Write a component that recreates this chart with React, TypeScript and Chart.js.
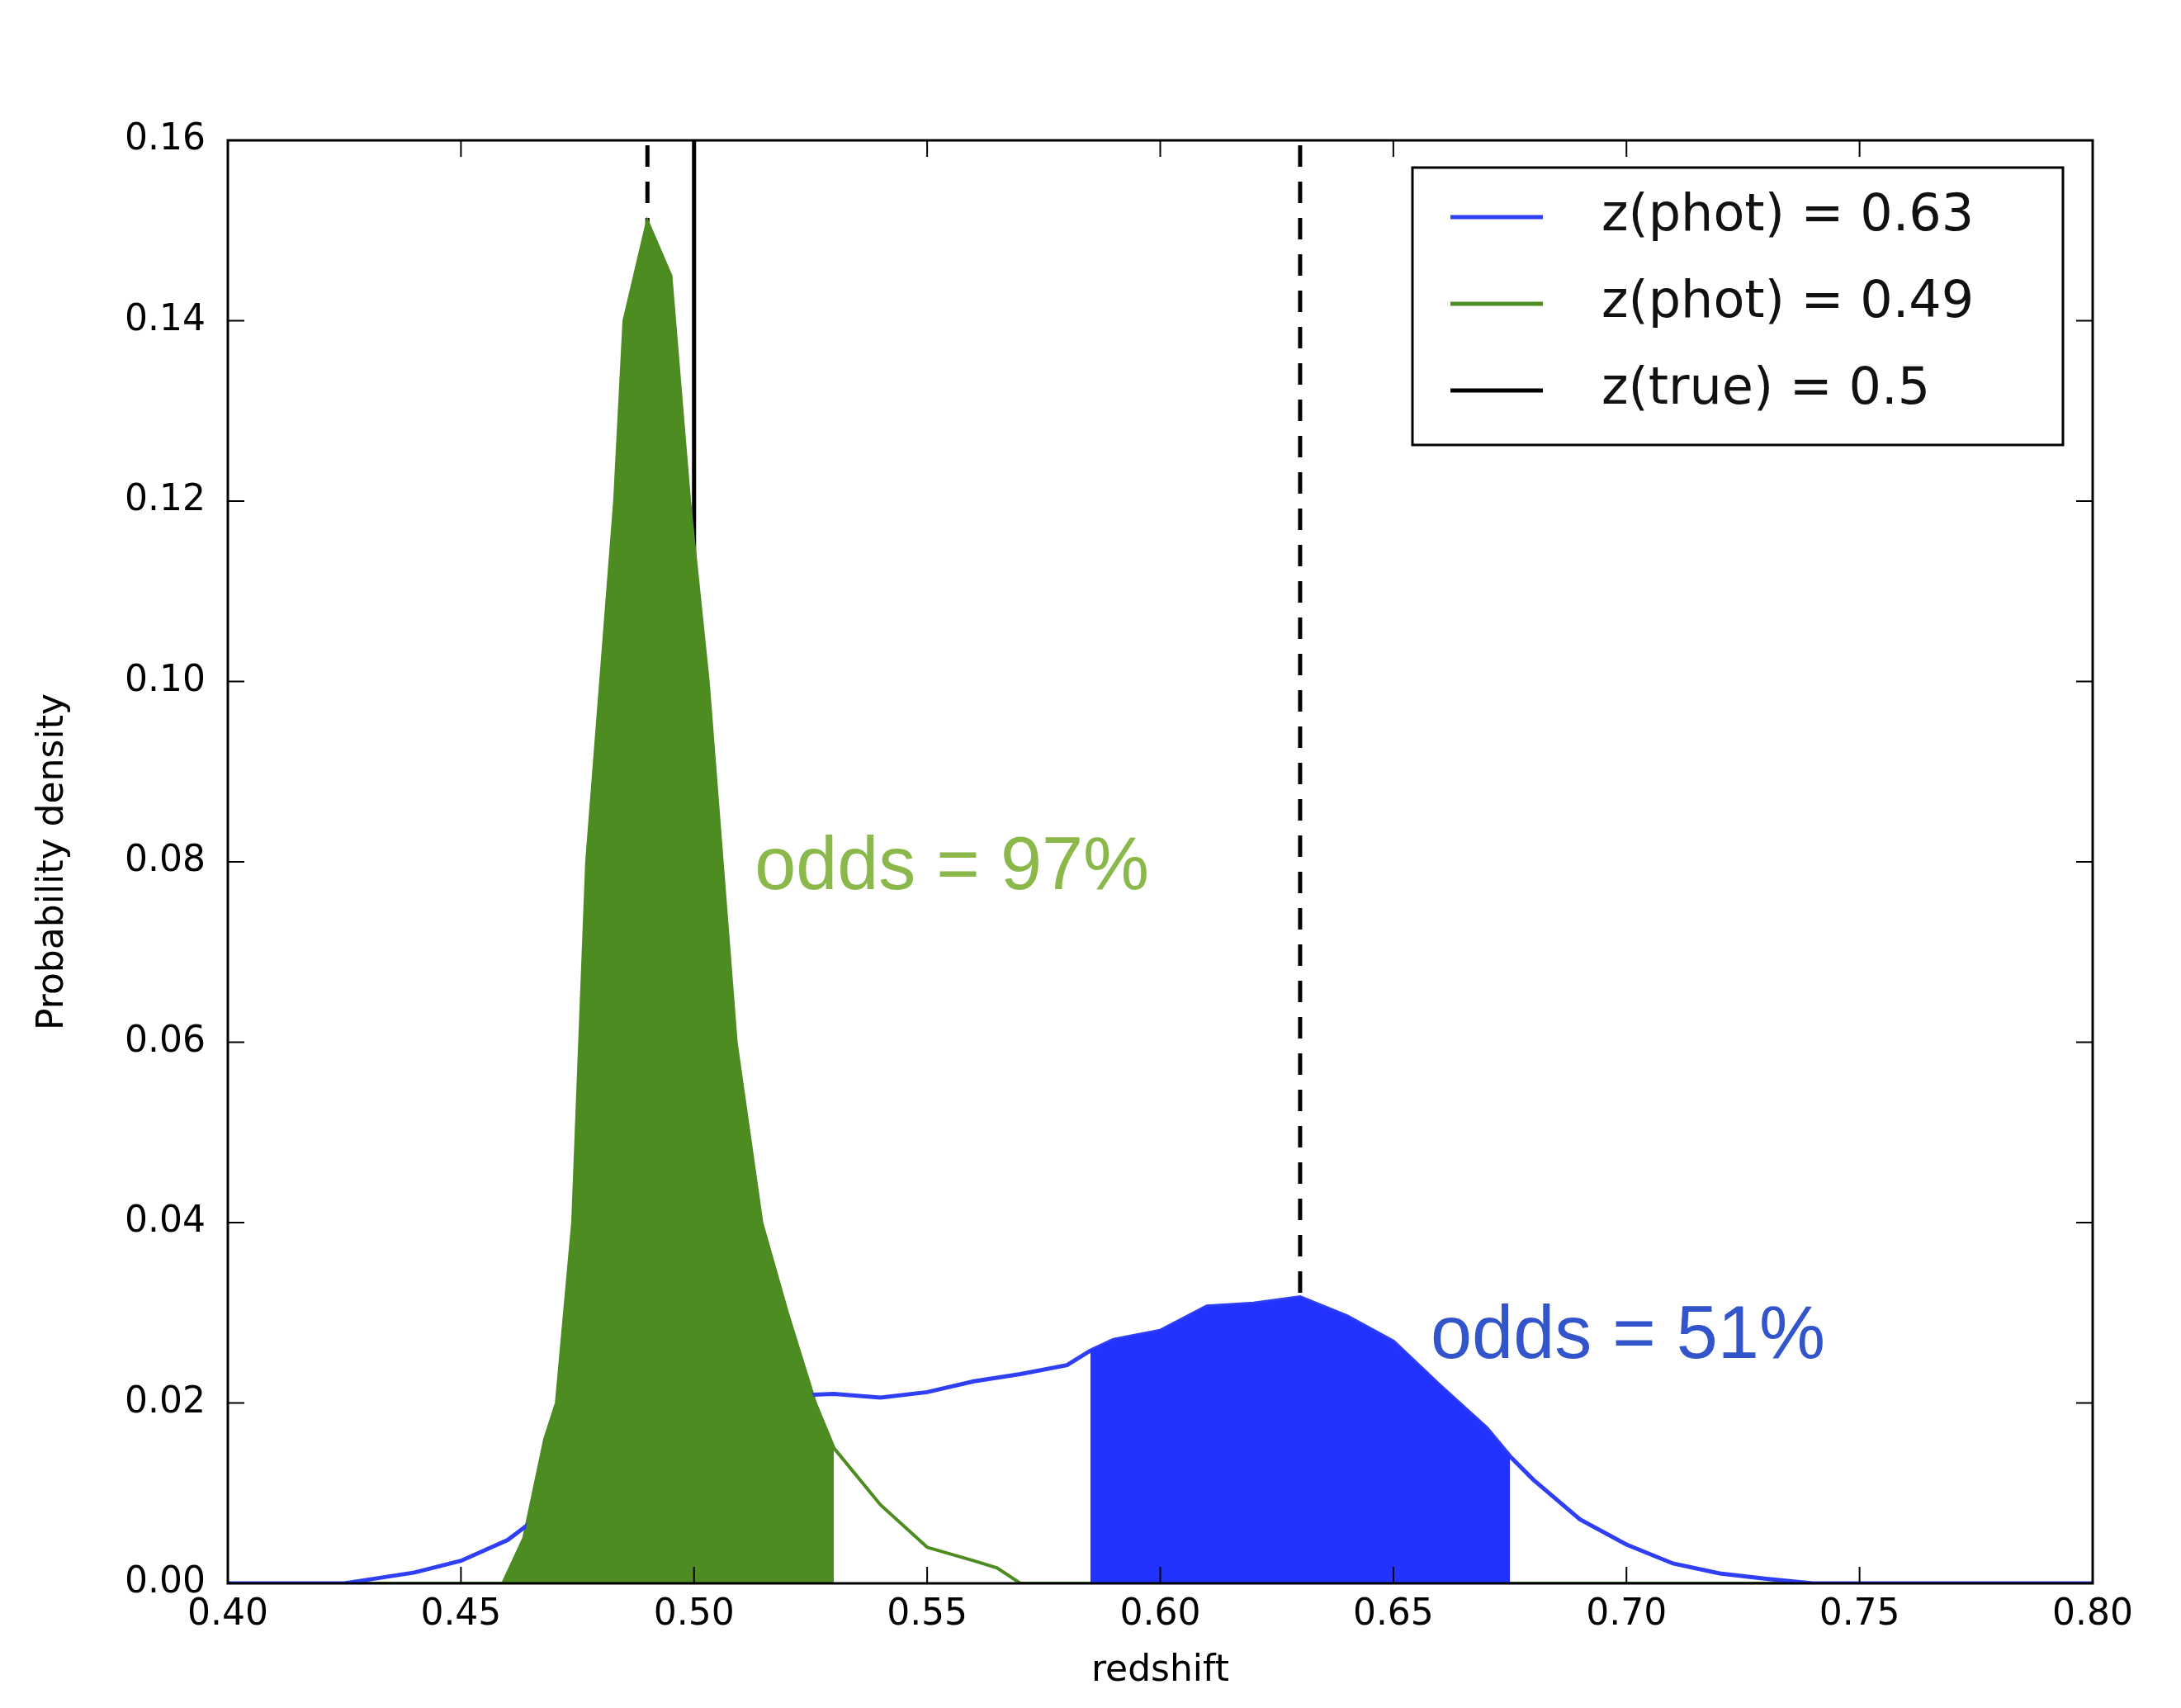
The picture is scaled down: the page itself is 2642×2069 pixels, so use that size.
import React, { useEffect, useRef } from "react";
import { Chart, registerables, Plugin } from "chart.js";

Chart.register(...registerables);

// redshift grid and the two probability densities
const blueX = [0.4, 0.425, 0.43, 0.44, 0.45, 0.46, 0.47, 0.48, 0.49, 0.5, 0.51, 0.52, 0.53, 0.54, 0.55, 0.56, 0.57, 0.58, 0.585, 0.59, 0.6, 0.61, 0.62, 0.63, 0.64, 0.65, 0.66, 0.67, 0.675, 0.68, 0.69, 0.7, 0.71, 0.72, 0.73, 0.74, 0.8];
const blueY = [0, 0, 0.0004, 0.0012, 0.0025, 0.0048, 0.0087, 0.0123, 0.0157, 0.018, 0.0203, 0.0208, 0.021, 0.0206, 0.0212, 0.0224, 0.0232, 0.0242, 0.0258, 0.027, 0.028, 0.0307, 0.031, 0.0317, 0.0296, 0.0268, 0.0219, 0.0172, 0.0141, 0.0115, 0.0071, 0.0043, 0.0022, 0.0011, 0.0005, 0, 0];
const greenX = [0.4, 0.459, 0.4635, 0.468, 0.4705, 0.474, 0.477, 0.483, 0.485, 0.49, 0.495, 0.499, 0.503, 0.509, 0.5145, 0.52, 0.526, 0.53, 0.54, 0.55, 0.56, 0.565, 0.57, 0.8];
const greenY = [0, 0, 0.005, 0.016, 0.02, 0.04, 0.08, 0.12, 0.14, 0.151, 0.145, 0.12, 0.1, 0.06, 0.04, 0.03, 0.02, 0.015, 0.0087, 0.004, 0.0025, 0.0017, 0, 0];
const greenFillRange = [0.459, 0.53];
const blueFillRange = [0.585, 0.675];
const zPhotBlue = 0.63;
const zPhotGreen = 0.49;
const zTrue = 0.5;
const xTicks = [0.4, 0.45, 0.5, 0.55, 0.6, 0.65, 0.7, 0.75, 0.8];
const yTicks = [0, 0.02, 0.04, 0.06, 0.08, 0.1, 0.12, 0.14, 0.16];
const legendLabels = ["z(phot) = 0.63", "z(phot) = 0.49", "z(true) = 0.5"];
const oddsGreen = { x: 0.513, y: 0.077, text: "odds = 97%" };
const oddsBlue = { x: 0.658, y: 0.0273, text: "odds = 51%" };

const BLUE_LINE = "#2f3ff5";
const BLUE_FILL = "#2233ff";
const GREEN = "#4c8c20";
const FONT = "'DejaVu Sans'";

const pts = (xs: number[], ys: number[]) => xs.map((x, i) => ({ x, y: ys[i] }));
const slice = (xs: number[], ys: number[], r: number[]) =>
  pts(xs, ys).filter((p) => p.x >= r[0] - 1e-9 && p.x <= r[1] + 1e-9);
const vline = (x: number) => [{ x, y: 0 }, { x, y: 0.16 }];

const overlay: Plugin<"line"> = {
  id: "overlay",
  afterDraw(chart) {
    const { ctx, chartArea: a, scales } = chart;
    const xs = scales.x;
    const ys = scales.y;
    ctx.save();
    // inward ticks on all four sides
    ctx.strokeStyle = "#000";
    ctx.lineWidth = 2;
    xTicks.forEach((t) => {
      const px = xs.getPixelForValue(t);
      ctx.beginPath();
      ctx.moveTo(px, a.bottom); ctx.lineTo(px, a.bottom - 20);
      ctx.moveTo(px, a.top); ctx.lineTo(px, a.top + 20);
      ctx.stroke();
    });
    yTicks.forEach((t) => {
      const py = ys.getPixelForValue(t);
      ctx.beginPath();
      ctx.moveTo(a.left, py); ctx.lineTo(a.left + 20, py);
      ctx.moveTo(a.right, py); ctx.lineTo(a.right - 20, py);
      ctx.stroke();
    });
    ctx.lineWidth = 3;
    ctx.strokeRect(a.left, a.top, a.right - a.left, a.bottom - a.top);

    // legend
    const lx = 1711, ly = 203, lw = 788, lh = 336;
    ctx.fillStyle = "#fff";
    ctx.fillRect(lx, ly, lw, lh);
    ctx.lineWidth = 3;
    ctx.strokeRect(lx, ly, lw, lh);
    const colors = [BLUE_LINE, GREEN, "#000"];
    ctx.font = `62px ${FONT}`;
    ctx.textBaseline = "middle";
    legendLabels.forEach((l, i) => {
      const y = 263 + i * 105;
      ctx.strokeStyle = colors[i];
      ctx.lineWidth = 5;
      ctx.beginPath();
      ctx.moveTo(1757, y); ctx.lineTo(1869, y);
      ctx.stroke();
      ctx.fillStyle = "#111";
      ctx.fillText(l, 1940, y);
    });

    // odds annotations
    ctx.font = `90px 'Liberation Sans'`;
    ctx.textBaseline = "alphabetic";
    ctx.fillStyle = "#8ab84a";
    ctx.fillText(oddsGreen.text, xs.getPixelForValue(oddsGreen.x), ys.getPixelForValue(oddsGreen.y));
    ctx.fillStyle = "#3355cc";
    ctx.textBaseline = "middle";
    ctx.fillText(oddsBlue.text, xs.getPixelForValue(oddsBlue.x), ys.getPixelForValue(oddsBlue.y));
    ctx.restore();
  },
};

const App: React.FC = () => {
  const canvasRef = useRef<HTMLCanvasElement | null>(null);

  useEffect(() => {
    document.body.style.margin = "0";
    const ctx = canvasRef.current?.getContext("2d");
    if (!ctx) return;
    const chart = new Chart(ctx, {
      type: "line",
      data: {
        datasets: [
          { data: slice(greenX, greenY, greenFillRange), borderWidth: 0, pointRadius: 0, fill: "origin", backgroundColor: GREEN, borderColor: GREEN },
          { data: slice(blueX, blueY, blueFillRange), borderWidth: 0, pointRadius: 0, fill: "origin", backgroundColor: BLUE_FILL, borderColor: BLUE_FILL },
          { data: pts(blueX, blueY), borderColor: BLUE_LINE, borderWidth: 5, pointRadius: 0, fill: false },
          { data: pts(greenX, greenY), borderColor: GREEN, borderWidth: 4, pointRadius: 0, fill: false },
          { data: vline(zPhotGreen), borderColor: "#000", borderWidth: 5, borderDash: [26, 18], pointRadius: 0, fill: false },
          { data: vline(zPhotBlue), borderColor: "#000", borderWidth: 5, borderDash: [26, 18], pointRadius: 0, fill: false },
          { data: vline(zTrue), borderColor: "#000", borderWidth: 5, pointRadius: 0, fill: false },
        ],
      },
      options: {
        animation: false,
        responsive: false,
        devicePixelRatio: 1,
        layout: { padding: { top: 170, right: 107, left: 0, bottom: 0 } },
        plugins: { legend: { display: false }, tooltip: { enabled: false } },
        scales: {
          x: {
            type: "linear",
            min: 0.4,
            max: 0.8,
            afterFit: (s) => { s.height = 151; },
            afterBuildTicks: (s) => { s.ticks = xTicks.map((v) => ({ value: v })); },
            grid: { display: false, drawTicks: false },
            border: { display: false },
            ticks: { color: "#000", padding: 12, font: { family: FONT, size: 44 }, callback: (v) => Number(v).toFixed(2) },
            title: { display: true, text: "redshift", color: "#000", font: { family: FONT, size: 44 }, padding: { top: 0, bottom: 18 } },
          },
          y: {
            min: 0,
            max: 0.16,
            afterFit: (s) => { s.width = 276; },
            afterBuildTicks: (s) => { s.ticks = yTicks.map((v) => ({ value: v })); },
            grid: { display: false, drawTicks: false },
            border: { display: false },
            ticks: { color: "#000", padding: 27, font: { family: FONT, size: 44 }, callback: (v) => Number(v).toFixed(2) },
            title: { display: true, text: "Probability density", color: "#000", font: { family: FONT, size: 44 }, padding: { top: 38, bottom: 0 } },
          },
        },
      },
      plugins: [overlay],
    });
    return () => chart.destroy();
  }, []);

  return <canvas ref={canvasRef} width={2642} height={2069} style={{ display: "block" }} />;
};

export default App;
